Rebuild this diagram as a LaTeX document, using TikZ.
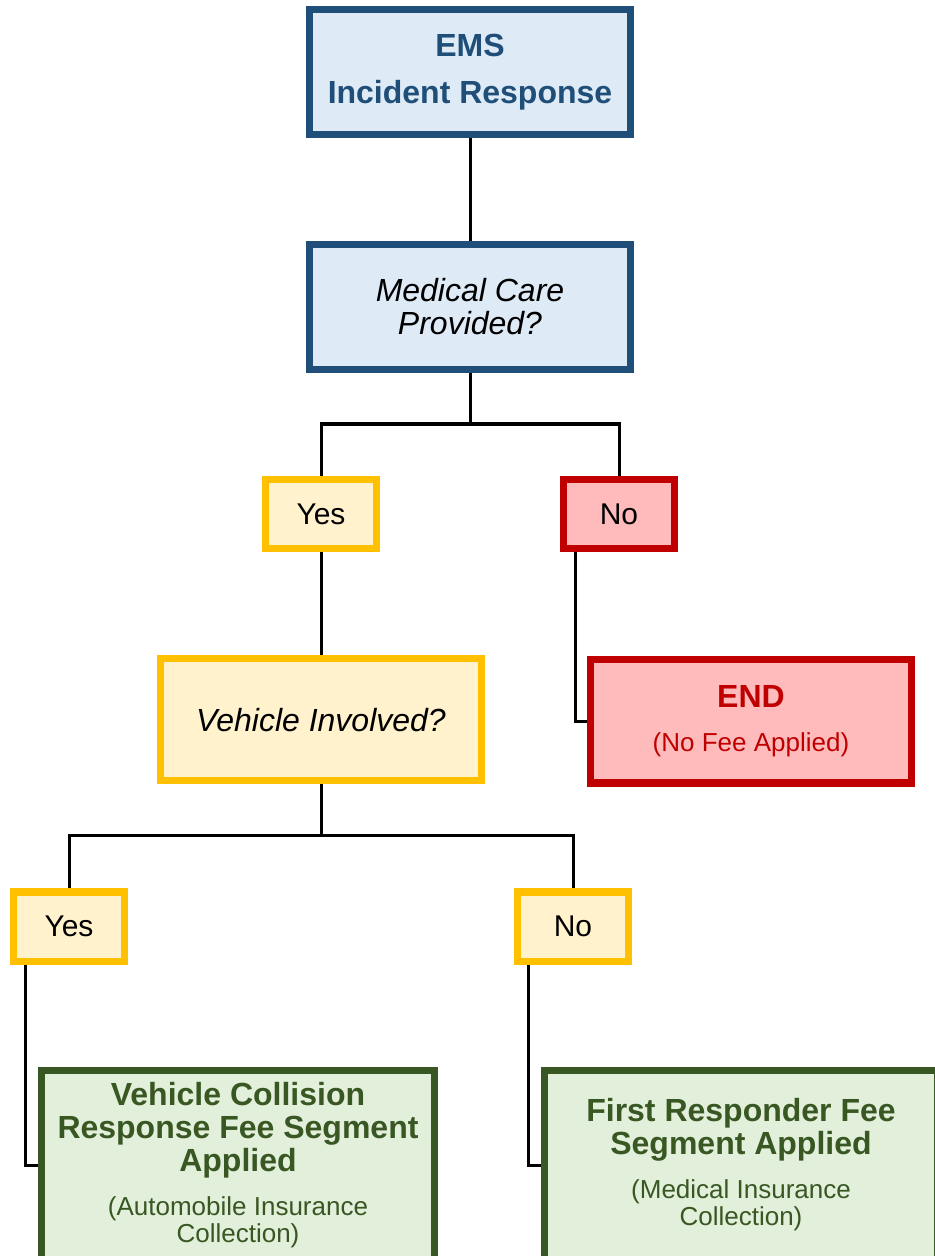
\documentclass[tikz,border=0pt]{standalone}
\usepackage{fontspec}
\setmainfont{Liberation Sans}
\usepackage{tikz}
\usetikzlibrary{positioning}

\definecolor{emsblue}{HTML}{1F4E79}
\definecolor{emsfill}{HTML}{DEEAF6}
\definecolor{gold}{HTML}{FFC000}
\definecolor{goldfill}{HTML}{FFF2CC}
\definecolor{endred}{HTML}{C00000}
\definecolor{endfill}{HTML}{FFBBBB}
\definecolor{feegreen}{HTML}{385723}
\definecolor{feefill}{HTML}{E2EFDA}

\newcommand{\notefont}{\fontsize{13}{13.5}\selectfont}

\begin{document}
\begin{tikzpicture}[
      x=0.5pt, y=-0.5pt,
      box/.style={draw, line width=3.6pt, align=center, inner sep=0pt,
      font=\fontsize{16}{16.5}\selectfont},
      bluebox/.style={box, draw=emsblue, fill=emsfill, minimum width=160.4pt,
      minimum height=62.4pt},
      answer/.style={box, minimum width=55.4pt, minimum height=34.6pt,
      font=\fontsize{15}{16}\selectfont},
      yesbox/.style={answer, draw=gold, fill=goldfill},
      nobox/.style={answer, draw=endred, fill=endfill},
      endbox/.style={box, draw=endred, fill=endfill, text=endred,
      minimum width=160.4pt, minimum height=61.9pt},
      feebox/.style={box, draw=feegreen, fill=feefill, text=feegreen,
      minimum width=196.4pt, minimum height=94.4pt},
      link/.style={line width=1.5pt}
    ]
    \useasboundingbox (0,0) rectangle (935,1256);
    \clip (0,0) rectangle (935,1256);

    % top of the tree
    \node[bluebox, text=emsblue] (ems) at (470,72)
    {\bfseries EMS\\[7pt]\bfseries Incident Response};
    \node[bluebox, below=51.5pt of ems, font=\fontsize{16}{16.5}\selectfont\itshape]
    (care) {Medical Care\\Provided?};
    \coordinate (split1) at (470,424);

    \node[yesbox] (yes1) at (321,514) {Yes};
    \node[nobox] (no1) at (619,514) {No};

    \draw[link] (ems) -- (care);
    \draw[link] (care.south) -- (split1);
    \draw[link] (split1) -| (yes1.north);
    \draw[link] (split1) -| (no1.north);

    % second question
    \node[box, draw=gold, fill=goldfill, minimum width=160.4pt,
    minimum height=60.9pt, font=\fontsize{16}{16.5}\selectfont\itshape,
    below=51.5pt of yes1] (vehicle) {Vehicle Involved?};
    \node[endbox] (end) at (751,721)
    {\bfseries END\\[5.5pt]\notefont (No Fee Applied)};

    \draw[link] (yes1) -- (vehicle);
    \draw[link] ([xshift=-22pt]no1.south) |- (end.west);

    \coordinate (split2) at (321,835);
    \node[yesbox] (yes2) at (69,926.5) {Yes};
    \node[yesbox] (no2) at (573,926.5) {No};

    \draw[link] (vehicle.south) -- (split2);
    \draw[link] (split2) -| (yes2.north);
    \draw[link] (split2) -| (no2.north);

    % fee segments
    \node[feebox] (collision) at (238,1165)
    {\bfseries Vehicle Collision\\\bfseries Response Fee Segment\\
    \bfseries Applied\\[5.5pt]\notefont (Automobile Insurance\\[-3pt]\notefont
    Collection)};
    \node[feebox] (responder) at (741,1165)
    {\bfseries First Responder Fee\\\bfseries Segment Applied\\[5.5pt]
    \notefont (Medical Insurance\\[-3pt]\notefont Collection)};

    \draw[link] ([xshift=-22pt]yes2.south) |- (collision.west);
    \draw[link] ([xshift=-22.5pt]no2.south) |- (responder.west);
  \end{tikzpicture}
\end{document}
